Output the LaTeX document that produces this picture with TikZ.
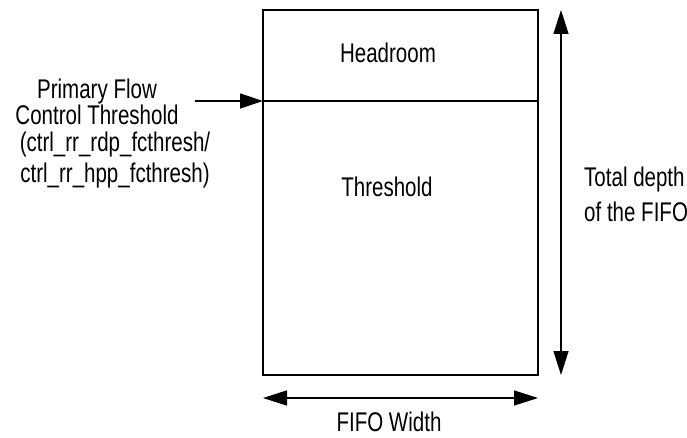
\documentclass[tikz,border=0pt]{standalone}
\usepackage{fontspec}
\setmainfont{Liberation Sans}[FakeStretch=0.76]
\usetikzlibrary{arrows.meta}
\tikzset{
  lbl/.style={inner sep=0pt, font=\fontsize{27}{32}\selectfont},
  ln/.style={line width=1.3pt},
  arr/.style={ln, -{Triangle[length=23pt,width=15pt]}},
  darr/.style={ln, {Triangle[length=24pt,width=15pt]}-{Triangle[length=24pt,width=15pt]}}
}
\begin{document}
\begin{tikzpicture}[x=1pt,y=-1pt]
\useasboundingbox (0,0) rectangle (687,438);
% FIFO box
\node[ln, draw, minimum width=275pt, minimum height=365pt, inner sep=0pt] (box) at (400.5,192.5) {};
\coordinate (dl) at (263,101);
\coordinate (dr) at (538,101);
\draw[ln] (dl) -- (dr);
\node[lbl, anchor=base] (head) at (388,63) {Headroom};
\node[lbl, anchor=base] (thr) at (387,197) {Threshold};
% primary flow control threshold label
\node[lbl, anchor=base] (p1) at (97,99) {Primary Flow};
\node[lbl, anchor=base] (p2) at (97,125) {Control Threshold};
\node[lbl, anchor=base] (p3) at (115,152) {(ctrl\_rr\_rdp\_fcthresh/};
\node[lbl, anchor=base] (p4) at (115,183) {ctrl\_rr\_hpp\_fcthresh)};
\coordinate (src) at (195,101);
\draw[arr] (src) -- (dl);
% total depth arrow
\coordinate (dt) at (561,10);
\coordinate (db) at (561,375);
\draw[darr] (dt) -- (db);
\node[lbl, anchor=base west] (td1) at (584,187) {Total depth};
\node[lbl, anchor=base west] (td2) at (584,222) {of the FIFO};
% width arrow
\coordinate (wl) at (263,398);
\coordinate (wr) at (538,398);
\draw[darr] (wl) -- (wr);
\node[lbl, anchor=base] (fw) at (389,431) {FIFO Width};
\end{tikzpicture}
\end{document}
